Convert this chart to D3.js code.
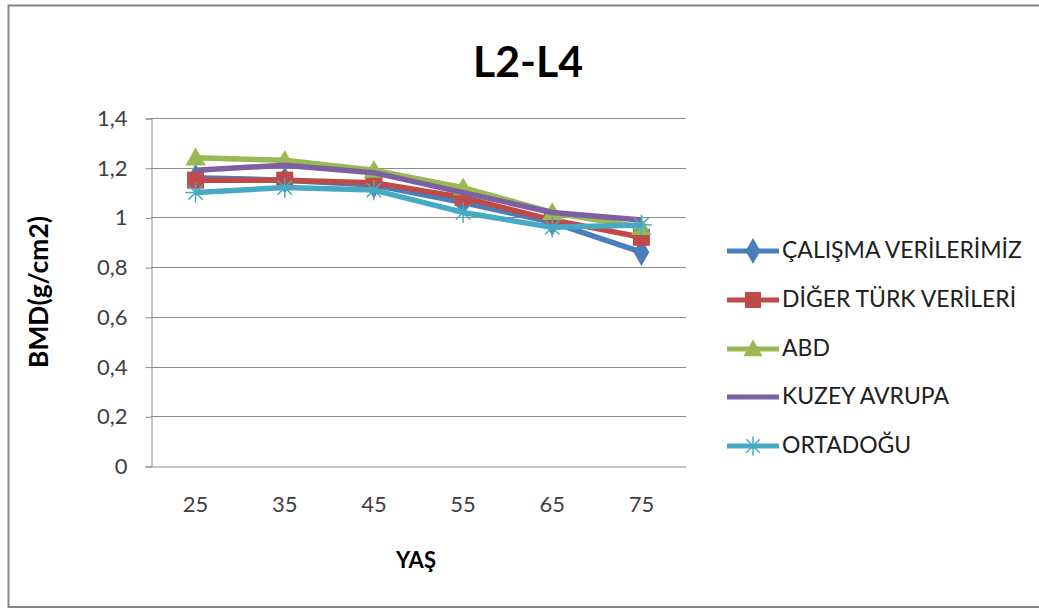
<!DOCTYPE html>
<html><head><meta charset="utf-8">
<script src="https://cdn.jsdelivr.net/npm/d3@7"></script>
<style>body{margin:0;background:#fff}svg{display:block}</style>
</head><body>
<script>
const categories = ["25","35","45","55","65","75"];
const seriesNames = ["ÇALIŞMA VERİLERİMİZ","DİĞER TÜRK VERİLERİ","ABD","KUZEY AVRUPA","ORTADOĞU"];
const calisma = [1.16,1.15,1.13,1.06,0.98,0.86];
const digerTurk = [1.15,1.15,1.14,1.08,0.99,0.92];
const abd = [1.24,1.23,1.19,1.12,1.02,0.96];
const kuzeyAvrupa = [1.19,1.21,1.18,1.10,1.02,0.99];
const ortadogu = [1.10,1.12,1.11,1.02,0.96,0.97];
const yTicks = [0,0.2,0.4,0.6,0.8,1,1.2,1.4];
const colors = ["#4a7ebb","#be4b48","#98b954","#7d60a0","#46aac5"];
const markers = ["diamond","square","triangle","none","star"];
const title = "L2-L4", xTitle = "YAŞ", yTitle = "BMD(g/cm2)";
const allSeries = [calisma,digerTurk,abd,kuzeyAvrupa,ortadogu];

const W=1039,H=608;
const font="Lato, 'Open Sans', sans-serif";
const svg=d3.select("body").append("svg").attr("width",W).attr("height",H);
svg.append("rect").attr("x",8.5).attr("y",5.5).attr("width",1040).attr("height",601.5)
  .attr("fill","#fff").attr("stroke","#858585").attr("stroke-width",2);

function fit(sel,target){
  const base=+sel.attr("font-size");
  const w=sel.node().getComputedTextLength();
  if(w>0) sel.attr("font-size",base*target/w);
  return +sel.attr("font-size");
}

const x=d3.scaleBand().domain(categories).range([151,686]);
const y=d3.scaleLinear().domain([0,1.4]).range([466,118]);
const fmt=d=>String(d).replace(".",",");

svg.append("g").selectAll("line").data(yTicks.filter(d=>d>0)).join("line")
  .attr("x1",151).attr("x2",686).attr("y1",d=>Math.round(y(d))+0.5).attr("y2",d=>Math.round(y(d))+0.5)
  .attr("stroke","#8c8c8c").attr("stroke-width",1);

const yAxis=svg.append("g").attr("transform","translate(151.5,0.5)")
  .call(d3.axisLeft(y).tickValues(yTicks).tickFormat(fmt).tickSize(6).tickPadding(18));
yAxis.select(".domain").attr("stroke","#8c8c8c");
yAxis.selectAll(".tick line").attr("stroke","#8c8c8c");
yAxis.selectAll("text").attr("font-family",font).attr("font-size",22).attr("fill","#404040");

const xAxis=svg.append("g").attr("transform","translate(0,466.5)")
  .call(d3.axisBottom(x).tickSize(0).tickPadding(30));
xAxis.select(".domain").attr("stroke","#8c8c8c");
xAxis.selectAll("text").attr("font-family",font).attr("font-size",22).attr("fill","#404040");

const t=svg.append("text").attr("x",528).attr("y",77).attr("text-anchor","middle")
  .attr("font-family",font).attr("font-weight","bold").attr("font-size",41).attr("fill","#000").text(title);
fit(t,110);
const xt=svg.append("text").attr("x",416).attr("y",568).attr("text-anchor","middle")
  .attr("font-family",font).attr("font-weight","bold").attr("font-size",20).attr("fill","#000").text(xTitle);
fit(xt,40);
const yt=svg.append("text").attr("transform","translate(48,292) rotate(-90)").attr("text-anchor","middle")
  .attr("font-family",font).attr("font-weight","bold").attr("font-size",20).attr("fill","#000").text(yTitle);
fit(yt,152);

function drawMarker(g,type,cx,cy,color,s){
  if(type==="diamond"){
    g.append("path").attr("d",d3.symbol(d3.symbolDiamond,s*s*0.75)()).attr("transform",`translate(${cx},${cy})`).attr("fill",color);
  } else if(type==="square"){
    g.append("rect").attr("x",cx-s/2).attr("y",cy-s/2).attr("width",s).attr("height",s).attr("fill",color);
  } else if(type==="triangle"){
    g.append("path").attr("d",`M${cx},${cy-s*0.6}L${cx+s*0.6},${cy+s*0.45}L${cx-s*0.6},${cy+s*0.45}Z`).attr("fill",color);
  } else if(type==="star"){
    const r=s*0.6;
    [0,45,90,135].forEach(a=>{
      const rad=a*Math.PI/180;
      g.append("line").attr("x1",cx-r*Math.cos(rad)).attr("y1",cy-r*Math.sin(rad))
        .attr("x2",cx+r*Math.cos(rad)).attr("y2",cy+r*Math.sin(rad))
        .attr("stroke",color).attr("stroke-width",1.5);
    });
  }
}

const line=d3.line().x((d,i)=>x(categories[i])+x.bandwidth()/2).y(d=>y(d));
allSeries.forEach((vals,si)=>{
  const g=svg.append("g");
  g.append("path").datum(vals).attr("d",line).attr("fill","none")
    .attr("stroke",colors[si]).attr("stroke-width",5.5).attr("stroke-linejoin","round");
  vals.forEach((v,i)=>drawMarker(g,markers[si],x(categories[i])+x.bandwidth()/2,y(v),colors[si],17));
});

const legY=[251,300,349,397,446];
let legSize=20;
seriesNames.forEach((n,i)=>{
  const g=svg.append("g");
  g.append("line").attr("x1",727).attr("x2",779).attr("y1",legY[i]).attr("y2",legY[i])
    .attr("stroke",colors[i]).attr("stroke-width",5);
  drawMarker(g,markers[i],753,legY[i],colors[i],16);
  const tx=g.append("text").attr("x",782).attr("y",legY[i]+7).attr("font-family",font).attr("font-size",legSize)
    .attr("fill","#202020").text(n);
  if(i===0) legSize=fit(tx,240);
});
</script>
</body></html>
